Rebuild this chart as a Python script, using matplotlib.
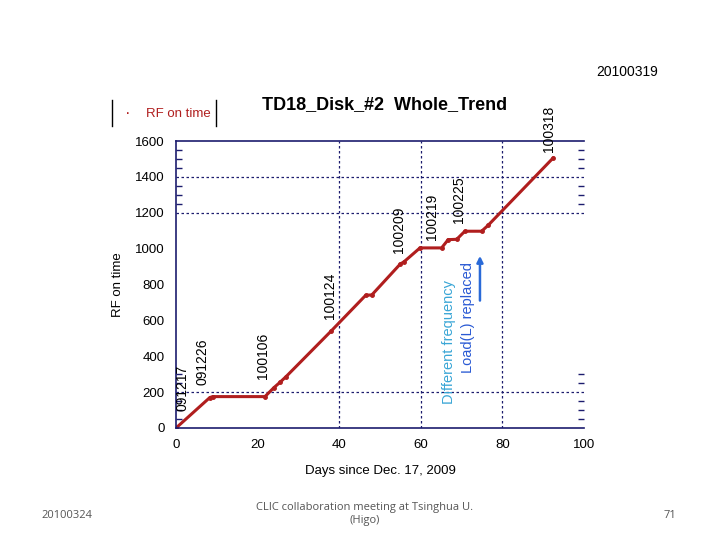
import matplotlib
matplotlib.use("Agg")
import matplotlib.pyplot as plt
from matplotlib.ticker import FixedLocator

plt.rcParams['font.family'] = ['Liberation Sans', 'DejaVu Sans']

# ---- data ----
days = [0, 8.3, 9.0, 21.8, 24.0, 25.5, 27.0, 38.0, 46.5, 48.0, 55.0, 55.8,
        59.8, 65.1, 66.7, 68.8, 70.8, 74.9, 76.5, 92.5]
rf_on = [0, 170, 175, 175, 225, 255, 287, 540, 740, 742, 915, 925,
         1004, 1004, 1050, 1052, 1097, 1097, 1130, 1507]

event_labels = ["091217", "091226", "100106", "100124", "100209", "100219", "100225", "100318"]
event_x = [1.7, 6.6, 21.3, 37.7, 54.7, 62.7, 69.4, 91.4]
event_y = [223, 369, 402, 737, 1106, 1179, 1274, 1665]

x_ticks = [0, 20, 40, 60, 80, 100]
y_ticks = [0, 200, 400, 600, 800, 1000, 1200, 1400, 1600]

RED = '#b01e1e'
NAVY = '#1c1c6e'

fig = plt.figure(figsize=(7.2, 5.4), dpi=100)
ax = fig.add_axes([176/720, 1 - 428/540, 408/720, 287/540])

ax.plot(days, rf_on, color=RED, lw=2.2, marker='o', ms=2.5, mfc=RED, mec=RED,
        solid_capstyle='round')

ax.set_xlim(0, 100)
ax.set_ylim(0, 1600)
ax.set_xticks(x_ticks)
ax.set_yticks(y_ticks)
ax.tick_params(axis='both', which='major', length=0, labelsize=9.5, pad=8)
ax.tick_params(axis='y', which='minor', length=4, color=NAVY, left=True, right=True,
               width=1, direction='in')
ax.yaxis.set_minor_locator(FixedLocator([50, 100, 150, 250, 300, 1250, 1300, 1350, 1450, 1500, 1550]))

for s in ['left', 'top', 'bottom']:
    ax.spines[s].set_color(NAVY)
    ax.spines[s].set_linewidth(1.2)
ax.spines['right'].set_visible(False)

# partial grid as in the reference
for gx in [40, 60, 80]:
    ax.axvline(gx, color=NAVY, ls=(0, (2, 2)), lw=0.9, zorder=0)
for gy in [200, 1200, 1400]:
    ax.axhline(gy, color=NAVY, ls=(0, (2, 2)), lw=0.9, zorder=0)

ax.set_xlabel("Days since Dec. 17, 2009", fontsize=9.5, labelpad=10)
ax.set_ylabel("RF on time", fontsize=9.5, labelpad=8)

for lab, xv, yv in zip(event_labels, event_x, event_y):
    ax.text(xv, yv, lab, rotation=90, ha='center', va='center', fontsize=10,
            color='black', clip_on=False)

ax.text(66.9, 480, "Different frequency", rotation=90, ha='center', va='center',
        fontsize=10.5, color='#3aa6d6')
ax.text(71.6, 615, "Load(L) replaced", rotation=90, ha='center', va='center',
        fontsize=10.5, color='#2a5ad4')
ax.annotate("", xy=(74.5, 975), xytext=(74.5, 695),
            arrowprops=dict(arrowstyle='-|>', color='#2a6ad8', lw=1.8, mutation_scale=9))

# title and legend-like box
fig.text(385/720, 1 - 105/540, "TD18_Disk_#2  Whole_Trend", ha='center', va='center',
         fontsize=13, fontweight='bold')
fig.add_artist(plt.Line2D([112/720, 112/720], [1 - 126/540, 1 - 100/540], color='black', lw=1))
fig.add_artist(plt.Line2D([216/720, 216/720], [1 - 126/540, 1 - 100/540], color='black', lw=1))
fig.text(128/720, 1 - 114/540, "·", ha='center', va='center', fontsize=12, color=RED)
fig.text(146/720, 1 - 114/540, "RF on time", ha='left', va='center', fontsize=9.5, color=RED)

fig.text(627/720, 1 - 72/540, "20100319", ha='center', va='center', fontsize=10)

# footer
fig.text(67/720, 1 - 515/540, "20100324", ha='center', va='center', fontsize=8,
         color='#555555', family=['Open Sans', 'DejaVu Sans'])
fig.text(365/720, 1 - 514/540, "CLIC collaboration meeting at Tsinghua U.\n(Higo)",
         ha='center', va='center', fontsize=8, color='#555555',
         family=['Open Sans', 'DejaVu Sans'], linespacing=1.3)
fig.text(670/720, 1 - 515/540, "71", ha='center', va='center', fontsize=8,
         color='#555555', family=['Open Sans', 'DejaVu Sans'])

fig.savefig("out.png", dpi=100)
